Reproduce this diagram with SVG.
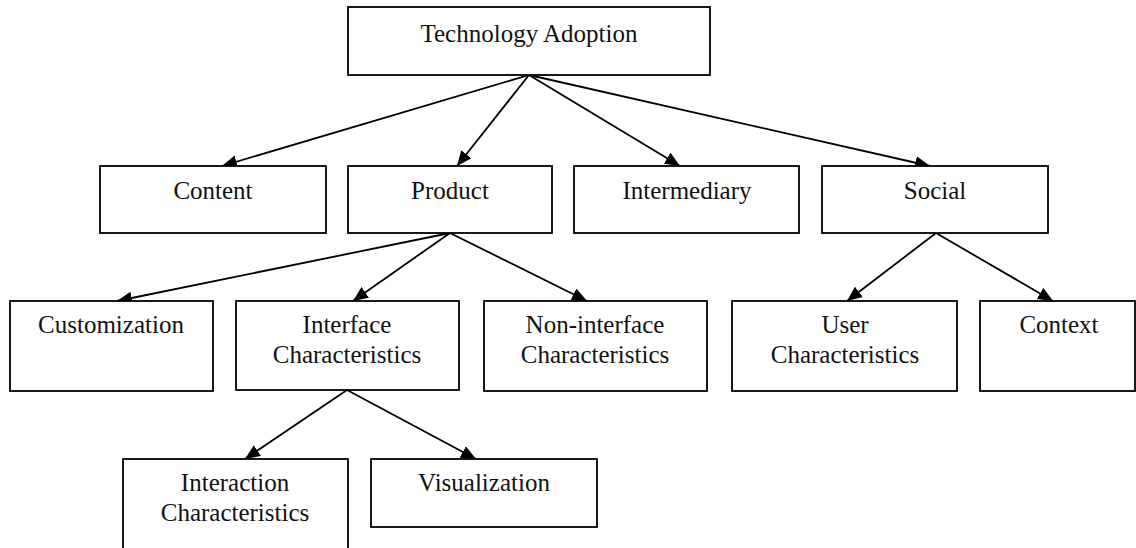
<svg xmlns="http://www.w3.org/2000/svg" width="1136" height="548" viewBox="0 0 1136 548">
<style>
.box{fill:#fff;stroke:#000;stroke-width:1.8}
.lbl{font-family:"Liberation Serif","Times New Roman",serif;font-size:25px;fill:#111;text-anchor:middle}
.edge{stroke:#000;stroke-width:1.8;fill:none;marker-end:url(#ah)}
</style>
<defs>
<marker id="ah" markerUnits="userSpaceOnUse" markerWidth="17" markerHeight="14" refX="15" refY="6.5" orient="auto">
<path d="M0,0 L15,6.5 L0,13 z" fill="#000"/>
</marker>
</defs>
<rect width="1136" height="548" fill="#fff"/>
<g id="connectors">
<line class="edge" x1="529" y1="75" x2="222" y2="166"/>
<line class="edge" x1="529" y1="75" x2="457" y2="166"/>
<line class="edge" x1="529" y1="75" x2="680" y2="166"/>
<line class="edge" x1="529" y1="75" x2="930" y2="166"/>
<line class="edge" x1="450" y1="233" x2="117" y2="301"/>
<line class="edge" x1="450" y1="233" x2="353" y2="301"/>
<line class="edge" x1="450" y1="233" x2="587" y2="301"/>
<line class="edge" x1="936" y1="233" x2="847" y2="301"/>
<line class="edge" x1="936" y1="233" x2="1053" y2="301"/>
<line class="edge" x1="347" y1="390" x2="245" y2="459"/>
<line class="edge" x1="347" y1="390" x2="476" y2="459"/>
</g>
<g id="technology-adoption">
<rect class="box" x="348" y="7" width="362" height="68"/>
<text class="lbl" x="529" y="42">Technology Adoption</text>
</g>
<g id="content">
<rect class="box" x="100" y="166" width="226" height="67"/>
<text class="lbl" x="213" y="199">Content</text>
</g>
<g id="product">
<rect class="box" x="348" y="166" width="204" height="67"/>
<text class="lbl" x="450" y="199">Product</text>
</g>
<g id="intermediary">
<rect class="box" x="574" y="166" width="225" height="67"/>
<text class="lbl" x="687" y="199">Intermediary</text>
</g>
<g id="social">
<rect class="box" x="822" y="166" width="226" height="67"/>
<text class="lbl" x="935" y="199">Social</text>
</g>
<g id="customization">
<rect class="box" x="10" y="301" width="203" height="90"/>
<text class="lbl" x="111" y="333">Customization</text>
</g>
<g id="interface-characteristics">
<rect class="box" x="236" y="301" width="223" height="89"/>
<text class="lbl" x="347" y="333">Interface</text>
<text class="lbl" x="347" y="363">Characteristics</text>
</g>
<g id="non-interface-characteristics">
<rect class="box" x="484" y="301" width="223" height="90"/>
<text class="lbl" x="595" y="333">Non-interface</text>
<text class="lbl" x="595" y="363">Characteristics</text>
</g>
<g id="user-characteristics">
<rect class="box" x="732" y="301" width="225" height="90"/>
<text class="lbl" x="845" y="333">User</text>
<text class="lbl" x="845" y="363">Characteristics</text>
</g>
<g id="context">
<rect class="box" x="980" y="301" width="155" height="90"/>
<text class="lbl" x="1059" y="333">Context</text>
</g>
<g id="interaction-characteristics">
<rect class="box" x="123" y="459" width="225" height="110"/>
<text class="lbl" x="235" y="491">Interaction</text>
<text class="lbl" x="235" y="521">Characteristics</text>
</g>
<g id="visualization">
<rect class="box" x="371" y="459" width="226" height="68"/>
<text class="lbl" x="484" y="491">Visualization</text>
</g>
</svg>
